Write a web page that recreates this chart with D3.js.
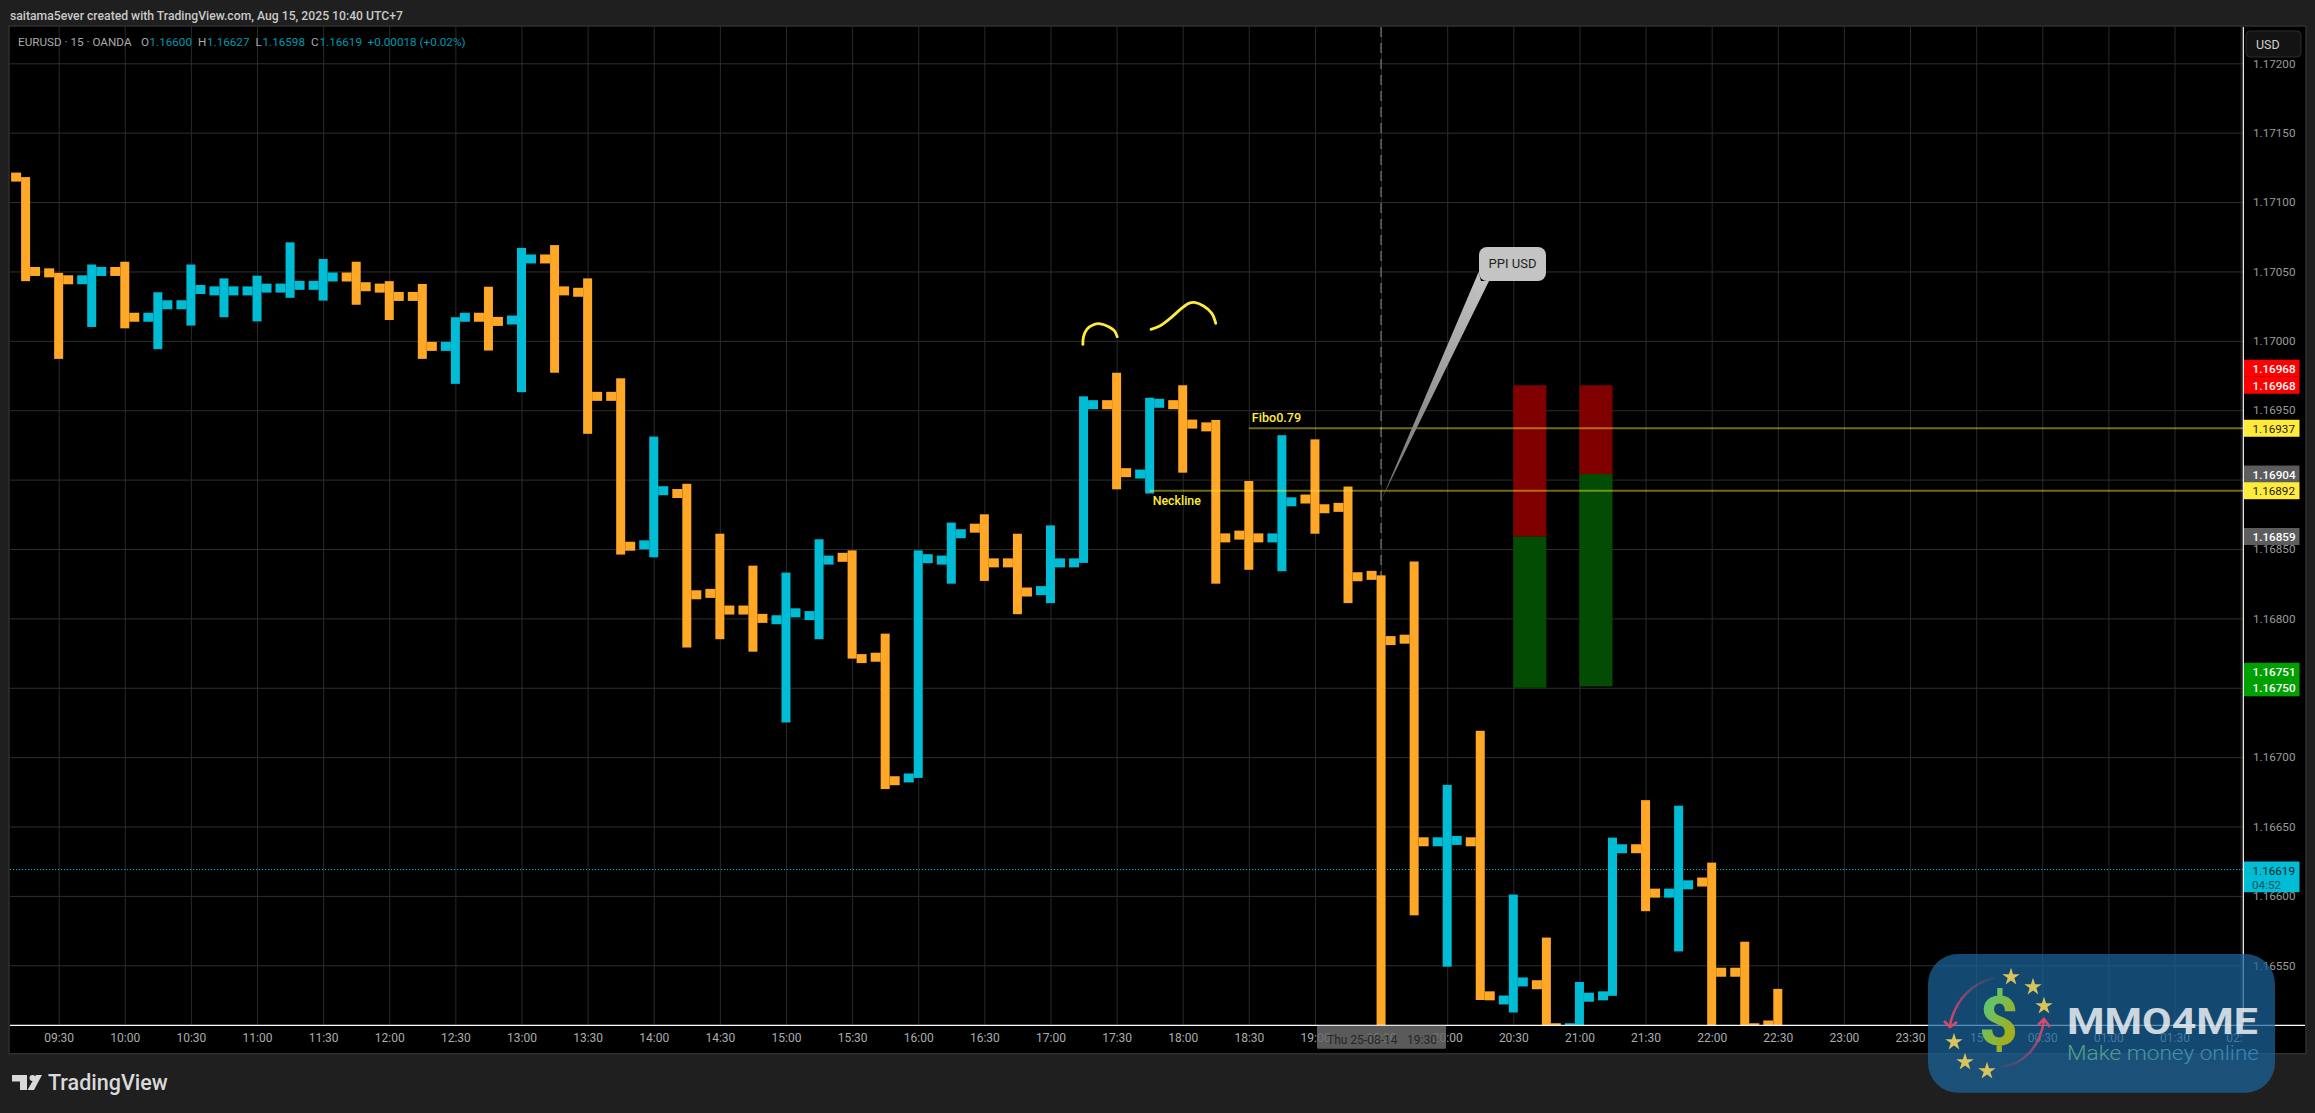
<!DOCTYPE html>
<html>
<head>
<meta charset="utf-8">
<script src="https://cdn.jsdelivr.net/npm/d3@7"></script>
<style>
html,body{margin:0;padding:0;background:#1f1f1f;overflow:hidden}
svg{display:block}
text{font-family:Roboto,"Noto Sans",sans-serif}
</style>
</head>
<body>
<svg id="c" width="2315" height="1113"></svg>
<script>
// ---------- data ----------
const times = ["09:15","09:30","09:45","10:00","10:15","10:30","10:45","11:00","11:15","11:30","11:45","12:00","12:15","12:30","12:45","13:00","13:15","13:30","13:45","14:00","14:15","14:30","14:45","15:00","15:15","15:30","15:45","16:00","16:15","16:30","16:45","17:00","17:15","17:30","17:45","18:00","18:15","18:30","18:45","19:00","19:15","19:30","19:45","20:00","20:15","20:30","20:45","21:00","21:15","21:30","21:45","22:00","22:15","22:30"];
const opens = [1.17118,1.17049,1.17044,1.17050,1.17017,1.17026,1.17036,1.17036,1.17038,1.17040,1.17046,1.17038,1.17032,1.16996,1.17017,1.17015,1.17059,1.17035,1.16960,1.16853,1.16890,1.16818,1.16806,1.16799,1.16802,1.16844,1.16772,1.16685,1.16842,1.16865,1.16840,1.16820,1.16840,1.16954,1.16904,1.16954,1.16938,1.16860,1.16858,1.16886,1.16880,1.16831,1.16785,1.16639,1.16639,1.16525,1.16536,1.16505,1.16528,1.16634,1.16602,1.16610,1.16545,1.16507];
const highs = [1.17118,1.17049,1.17055,1.17057,1.17035,1.17055,1.17045,1.17047,1.17071,1.17059,1.17057,1.17043,1.17041,1.17017,1.17039,1.17067,1.17069,1.17045,1.16973,1.16931,1.16897,1.16861,1.16838,1.16833,1.16857,1.16849,1.16789,1.16849,1.16869,1.16875,1.16861,1.16867,1.16960,1.16977,1.16959,1.16968,1.16943,1.16899,1.16932,1.16929,1.16895,1.16831,1.16841,1.16680,1.16719,1.16601,1.16570,1.16538,1.16642,1.16669,1.16665,1.16624,1.16567,1.16533];
const lows = [1.17043,1.16987,1.17010,1.17009,1.16994,1.17011,1.17017,1.17014,1.17031,1.17029,1.17026,1.17015,1.16987,1.16969,1.16993,1.16963,1.16977,1.16933,1.16846,1.16844,1.16779,1.16785,1.16776,1.16725,1.16785,1.16771,1.16677,1.16685,1.16825,1.16827,1.16803,1.16811,1.16840,1.16893,1.16890,1.16905,1.16825,1.16835,1.16834,1.16861,1.16811,1.16480,1.16586,1.16549,1.16525,1.16516,1.16490,1.16495,1.16528,1.16589,1.16560,1.16490,1.16490,1.16480];
const closes = [1.17050,1.17044,1.17050,1.17017,1.17026,1.17037,1.17036,1.17038,1.17040,1.17046,1.17039,1.17032,1.16996,1.17017,1.17014,1.17059,1.17036,1.16960,1.16852,1.16892,1.16817,1.16806,1.16800,1.16804,1.16842,1.16771,1.16683,1.16843,1.16861,1.16840,1.16819,1.16840,1.16954,1.16905,1.16955,1.16940,1.16858,1.16858,1.16884,1.16879,1.16830,1.16784,1.16639,1.16640,1.16528,1.16538,1.16505,1.16527,1.16634,1.16602,1.16608,1.16545,1.16505,1.16485];
const priceTicks = [1.172,1.1715,1.171,1.1705,1.17,1.1695,1.169,1.1685,1.168,1.1675,1.167,1.1665,1.166,1.1655];
const timeTickLabels = ["09:30","10:00","10:30","11:00","11:30","12:00","12:30","13:00","13:30","14:00","14:30","15:00","15:30","16:00","16:30","17:00","17:30","18:00","18:30","19:00","19:30","20:00","20:30","21:00","21:30","22:00","22:30","23:00","23:30","15","00:30","01:00","01:30","02:00"];
const positionBoxes = [
  {from:45,to:46,top:1.16968,mid:1.16859,bottom:1.16750},
  {from:47,to:48,top:1.16968,mid:1.16904,bottom:1.16751}
];
const levelLines = [
  {from:37,price:1.16937,name:"Fibo0.79"},
  {from:34,price:1.16892,name:"Neckline"}
];
const sketchOne = [[31.98,1.169974],[32.00,1.17003],[32.10,1.170083],[32.30,1.170116],[32.51,1.170123],[32.76,1.170102],[32.93,1.170073],[33.02,1.17003]];
const sketchTwo = [[34.04,1.170083],[34.32,1.170109],[34.62,1.170162],[34.93,1.170227],[35.18,1.17027],[35.35,1.170277],[35.63,1.170251],[35.88,1.170198],[36.00,1.170126]];
const crossBar = 41;
const lastPrice = 1.16619;
const calloutTip = [41.02, 1.16886];
const priceTags = [
  {t:"1.16968",p:1.16968,dy:-17,bg:"#ff0000",fg:"#fff",b:1},
  {t:"1.16968",p:1.16968,dy:0,bg:"#ff0000",fg:"#fff",b:1},
  {t:"1.16937",p:1.16937,dy:0,bg:"#ffeb3b",fg:"#222",b:0},
  {t:"1.16904",p:1.16904,dy:0,bg:"#5d5d5d",fg:"#fff",b:1},
  {t:"1.16892",p:1.16892,dy:0,bg:"#ffeb3b",fg:"#222",b:0},
  {t:"1.16859",p:1.16859,dy:0,bg:"#5d5d5d",fg:"#fff",b:1},
  {t:"1.16751",p:1.16751,dy:-15,bg:"#00a000",fg:"#fff",b:1},
  {t:"1.16750",p:1.16750,dy:0,bg:"#00a000",fg:"#fff",b:1}
];
const legendParts = [
  {x:18,t:"EURUSD \u00b7 15 \u00b7 OANDA",c:"#a9abb0"},
  {x:141,t:"O",c:"#a9abb0"},{x:149.5,t:"1.16600",c:"#0097ad"},
  {x:198,t:"H",c:"#a9abb0"},{x:207,t:"1.16627",c:"#0097ad"},
  {x:255.5,t:"L",c:"#a9abb0"},{x:262.5,t:"1.16598",c:"#0097ad"},
  {x:311,t:"C",c:"#a9abb0"},{x:319.5,t:"1.16619",c:"#0097ad"},
  {x:367.5,t:"+0.00018 (+0.02%)",c:"#0097ad"}
];

// ---------- layout ----------
const W=2315,H=1113, L=10,T=27,R=2243,B=1025,PR=2305,PB=1052.7;
const UP="#00bcd4", DOWN="#ffa726", YEL="#ffeb3b", GRID="#2e2e2e";
const svg=d3.select("#c");
const x=d3.scaleLinear().domain([0,times.length-1]).range([25.6,1777.8]);
const y=d3.scaleLinear().domain([1.172,1.1655]).range([63.3,965.3]);
const bars=times.map((t,i)=>({i,t,o:opens[i],h:highs[i],l:lows[i],c:closes[i]}));
const tickIdx=timeTickLabels.map((_,k)=>1+2*k);

const defs=svg.append("defs");
defs.append("clipPath").attr("id","pane").append("rect").attr("x",L).attr("y",T).attr("width",R-L).attr("height",B-T);

svg.append("rect").attr("width",W).attr("height",H).attr("fill","#1f1f1f");
svg.append("rect").attr("x",L-1).attr("y",T-1).attr("width",PR-L+2).attr("height",PB-T+2).attr("fill","#000").attr("stroke","#2f2f2f").attr("stroke-width",1.5);

// top caption
svg.append("text").attr("x",10).attr("y",19.5).attr("font-size",12.2).attr("font-weight",500).attr("fill","#c9c9c9").text("saitama5ever created with TradingView.com, Aug 15, 2025 10:40 UTC+7");

// grid
const gridV=svg.append("g").attr("transform",`translate(0,${B})`)
  .call(d3.axisBottom(x).tickValues(tickIdx).tickSize(-(B-T)).tickFormat(""));
gridV.select(".domain").remove();
gridV.selectAll("line").attr("stroke","#2a2a2a").attr("stroke-width",1);
const gridH=svg.append("g").attr("transform",`translate(${L},0)`)
  .call(d3.axisRight(y).tickValues(priceTicks).tickSize(R-L).tickFormat(""));
gridH.select(".domain").remove();
gridH.selectAll("line").attr("stroke",GRID).attr("stroke-width",1);

// legend
svg.append("g").selectAll("text").data(legendParts).join("text")
  .attr("x",d=>d.x).attr("y",46).attr("font-size",11.7).attr("fill",d=>d.c).text(d=>d.t);

const pane=svg.append("g").attr("clip-path","url(#pane)");

// crosshair & last price line
pane.append("line").attr("x1",x(crossBar)).attr("x2",x(crossBar)).attr("y1",T).attr("y2",B)
  .attr("stroke","#666").attr("stroke-width",1.5).attr("stroke-dasharray","10 6");
pane.append("line").attr("x1",L).attr("x2",R).attr("y1",y(lastPrice)).attr("y2",y(lastPrice))
  .attr("stroke",UP).attr("stroke-width",1).attr("stroke-dasharray","1.2 1.8");

// position boxes
const boxG=pane.append("g");
positionBoxes.forEach(b=>{
  boxG.append("rect").attr("x",x(b.from)).attr("width",x(b.to)-x(b.from)).attr("y",y(b.top)).attr("height",y(b.mid)-y(b.top)).attr("fill","#800000");
  boxG.append("rect").attr("x",x(b.from)).attr("width",x(b.to)-x(b.from)).attr("y",y(b.mid)).attr("height",y(b.bottom)-y(b.mid)).attr("fill","#034c03");
});

// OHLC bars
const barG=pane.append("g");
const col=d=>d.c>=d.o?UP:DOWN;
barG.selectAll("rect.stem").data(bars).join("rect").attr("class","stem")
  .attr("x",d=>x(d.i)-4.5).attr("width",9).attr("y",d=>y(d.h)).attr("height",d=>y(d.l)-y(d.h)).attr("fill",col);
barG.selectAll("rect.open").data(bars).join("rect").attr("class","open")
  .attr("x",d=>x(d.i)-14.5).attr("width",10).attr("y",d=>y(d.o)-4.5).attr("height",9).attr("fill",col);
barG.selectAll("rect.close").data(bars).join("rect").attr("class","close")
  .attr("x",d=>x(d.i)+4.5).attr("width",10).attr("y",d=>y(d.c)-4.5).attr("height",9).attr("fill",col);

// level lines with labels
levelLines.forEach(l=>{
  pane.append("line").attr("x1",x(l.from)).attr("x2",R).attr("y1",y(l.price)).attr("y2",y(l.price))
    .attr("stroke",YEL).attr("stroke-opacity",.45).attr("stroke-width",2);
});
pane.append("text").attr("x",x(levelLines[0].from)+3).attr("y",y(levelLines[0].price)-6.5)
  .attr("font-size",12.6).attr("font-weight",500).attr("fill",YEL).text(levelLines[0].name);
pane.append("text").attr("x",x(levelLines[1].from)+3).attr("y",y(levelLines[1].price)+14.5)
  .attr("font-size",12.4).attr("font-weight",500).attr("fill",YEL).text(levelLines[1].name);

// freehand sketches
const sketch=d3.line().x(d=>x(d[0])).y(d=>y(d[1])).curve(d3.curveCatmullRom);
[sketchOne,sketchTwo].forEach(s=>{
  pane.append("path").attr("d",sketch(s)).attr("fill","none").attr("stroke",YEL).attr("stroke-width",2.8).attr("stroke-linecap","round");
});

// callout
const tip=[x(calloutTip[0]),y(calloutTip[1])];
const tailGrad=defs.append("linearGradient").attr("id","tail").attr("gradientUnits","userSpaceOnUse")
  .attr("x1",1490).attr("y1",275).attr("x2",tip[0]).attr("y2",tip[1]);
tailGrad.append("stop").attr("offset",0).attr("stop-color","#c4c4c4");
tailGrad.append("stop").attr("offset",1).attr("stop-color","#6f6f6f");
pane.append("path").attr("d",`M${tip[0]},${tip[1]}L1478.6,272L1481,281L1489,281Z`).attr("fill","url(#tail)");
pane.append("rect").attr("x",1479).attr("y",247).attr("width",67).attr("height",34).attr("rx",8).attr("fill","#c4c4c4");
pane.append("text").attr("x",1512.5).attr("y",268).attr("text-anchor","middle").attr("font-size",13).attr("fill","#222").text("PPI USD");

// time axis
const axX=svg.append("g").attr("transform",`translate(0,${B})`)
  .call(d3.axisBottom(x).tickValues(tickIdx).tickSize(0).tickPadding(8).tickFormat((d,i)=>timeTickLabels[i]));
axX.select(".domain").remove();
axX.selectAll("text").attr("font-family","Roboto,sans-serif").attr("font-size",12).attr("fill","#aaacb0");

// price axis
svg.append("rect").attr("x",R).attr("y",T).attr("width",PR-R).attr("height",PB-T).attr("fill","#000");
const axY=svg.append("g").attr("transform",`translate(${R},0)`)
  .call(d3.axisRight(y).tickValues(priceTicks).tickSize(0).tickPadding(10).tickFormat(d3.format(".5f")));
axY.select(".domain").remove();
axY.selectAll("text").attr("font-family","Roboto,sans-serif").attr("font-size",11.7).attr("fill","#9a9a9a");

// price tags
const tagG=svg.append("g");
priceTags.forEach(d=>{
  const cy=y(d.p)+d.dy;
  tagG.append("rect").attr("x",R+.5).attr("y",cy-8.5).attr("width",56).attr("height",17).attr("fill",d.bg);
  tagG.append("text").attr("x",R+9.5).attr("y",cy+4.5).attr("font-size",11.7).attr("font-weight",d.b?500:400).attr("fill",d.fg).text(d.t);
});
const lastY=y(lastPrice);
tagG.append("rect").attr("x",R+.5).attr("y",lastY-8).attr("width",56).attr("height",30.7).attr("rx",1).attr("fill",UP);
tagG.append("text").attr("x",R+9.5).attr("y",lastY+5).attr("font-size",11.7).attr("fill","#10262a").text(d3.format(".5f")(lastPrice));
tagG.append("text").attr("x",R+9).attr("y",lastY+19).attr("font-size",11.7).attr("fill","#0b5663").text("04:52");

// axis lines
svg.append("line").attr("x1",L).attr("x2",PR).attr("y1",B+.3).attr("y2",B+.3).attr("stroke","#fff").attr("stroke-width",1.2);
svg.append("line").attr("x1",R+.3).attr("x2",R+.3).attr("y1",T).attr("y2",B).attr("stroke","#fff").attr("stroke-width",1.2);

// USD button
svg.append("rect").attr("x",R+1).attr("y",T).attr("width",PR-R-1).attr("height",32.5).attr("fill","#000");
svg.append("rect").attr("x",2246).attr("y",31).attr("width",55).attr("height",26).attr("rx",4).attr("fill","#131313").attr("stroke","#2c2c2c");
svg.append("text").attr("x",2256).attr("y",48.5).attr("font-size",12.5).attr("fill","#d0d0d0").text("USD");

// crosshair time label
svg.append("rect").attr("x",1317).attr("y",B+.8).attr("width",129).attr("height",23).attr("rx",1).attr("fill","#6a6a6a").attr("fill-opacity",.85);
svg.append("text").attr("x",1327).attr("y",1044).attr("font-size",12).attr("fill","#262626").text("Thu 25-08-14");
svg.append("text").attr("x",1407).attr("y",1044).attr("font-size",12).attr("fill","#262626").text(times[crossBar]);

// TradingView logo
svg.append("path").attr("fill","#d9d9d9").attr("d","M12,1075H27V1090H20V1081.5H12Z M36,1075H42L34,1090H27.5Z");
svg.append("circle").attr("cx",32.5).attr("cy",1078).attr("r",3).attr("fill","#d9d9d9");
svg.append("text").attr("x",48).attr("y",1090).attr("font-size",21.5).attr("font-weight",500).attr("fill","#d9d9d9").text("TradingView");

// watermark
const wm=svg.append("g");
const gD=defs.append("linearGradient").attr("id","dollar").attr("x1",0).attr("y1",0).attr("x2",1).attr("y2",1);
gD.append("stop").attr("offset",.1).attr("stop-color","#4fca86");
gD.append("stop").attr("offset",.9).attr("stop-color","#b8a800");
const gT=defs.append("linearGradient").attr("id","tag").attr("x1",0).attr("y1",0).attr("x2",1).attr("y2",0);
gT.append("stop").attr("offset",0).attr("stop-color","#5fae86");
gT.append("stop").attr("offset",1).attr("stop-color","#3f86c4");
const gA=defs.append("linearGradient").attr("id","arrL").attr("x1",1).attr("y1",0).attr("x2",0).attr("y2",1);
gA.append("stop").attr("offset",0).attr("stop-color","#d9476a").attr("stop-opacity",.1);
gA.append("stop").attr("offset",1).attr("stop-color","#d9476a");
const gB=defs.append("linearGradient").attr("id","arrR").attr("x1",0).attr("y1",1).attr("x2",1).attr("y2",0);
gB.append("stop").attr("offset",0).attr("stop-color","#d9476a").attr("stop-opacity",.1);
gB.append("stop").attr("offset",1).attr("stop-color","#d9476a");
wm.append("rect").attr("x",1928).attr("y",954).attr("width",347).attr("height",138.7).attr("rx",30).attr("fill","#1b649b").attr("fill-opacity",.72);
wm.append("path").attr("d","M1995,978C1973,982 1955,1000 1950,1025").attr("fill","none").attr("stroke","url(#arrL)").attr("stroke-width",2.5);
wm.append("path").attr("d","M1944,1021L1950,1027L1957,1022").attr("fill","none").attr("stroke","#d9476a").attr("stroke-width",2.5);
wm.append("path").attr("d","M2000,1067C2025,1065 2040,1045 2044,1021").attr("fill","none").attr("stroke","url(#arrR)").attr("stroke-width",2.5);
wm.append("path").attr("d","M2038,1025L2044,1019L2050,1027").attr("fill","none").attr("stroke","#d9476a").attr("stroke-width",2.5);
const starPath=d3.symbol().type(d3.symbolStar).size(95);
[[2011,977],[2033,987],[2044,1006],[1954,1042],[1965,1062],[1987,1071]].forEach(p=>{
  wm.append("path").attr("d",starPath()).attr("transform",`translate(${p[0]},${p[1]})`).attr("fill","#d9c45c");
});
wm.append("text").attr("x",1998.5).attr("y",1045).attr("text-anchor","middle").attr("font-size",68).attr("font-weight",800).attr("font-family","'Open Sans',sans-serif").attr("fill","url(#dollar)").text("$");
wm.append("text").attr("x",2067).attr("y",1034).attr("font-size",37).attr("font-weight",700).attr("font-family","'Open Sans',sans-serif").attr("fill","#ffffff").attr("fill-opacity",.78).attr("textLength",191).attr("lengthAdjust","spacingAndGlyphs").text("MMO4ME");
wm.append("text").attr("x",2067).attr("y",1060).attr("font-size",21).attr("font-weight",300).attr("font-family","'Open Sans',sans-serif").attr("fill","url(#tag)").attr("fill-opacity",.9).attr("textLength",192).attr("lengthAdjust","spacingAndGlyphs").text("Make money online");
</script>
</body>
</html>
